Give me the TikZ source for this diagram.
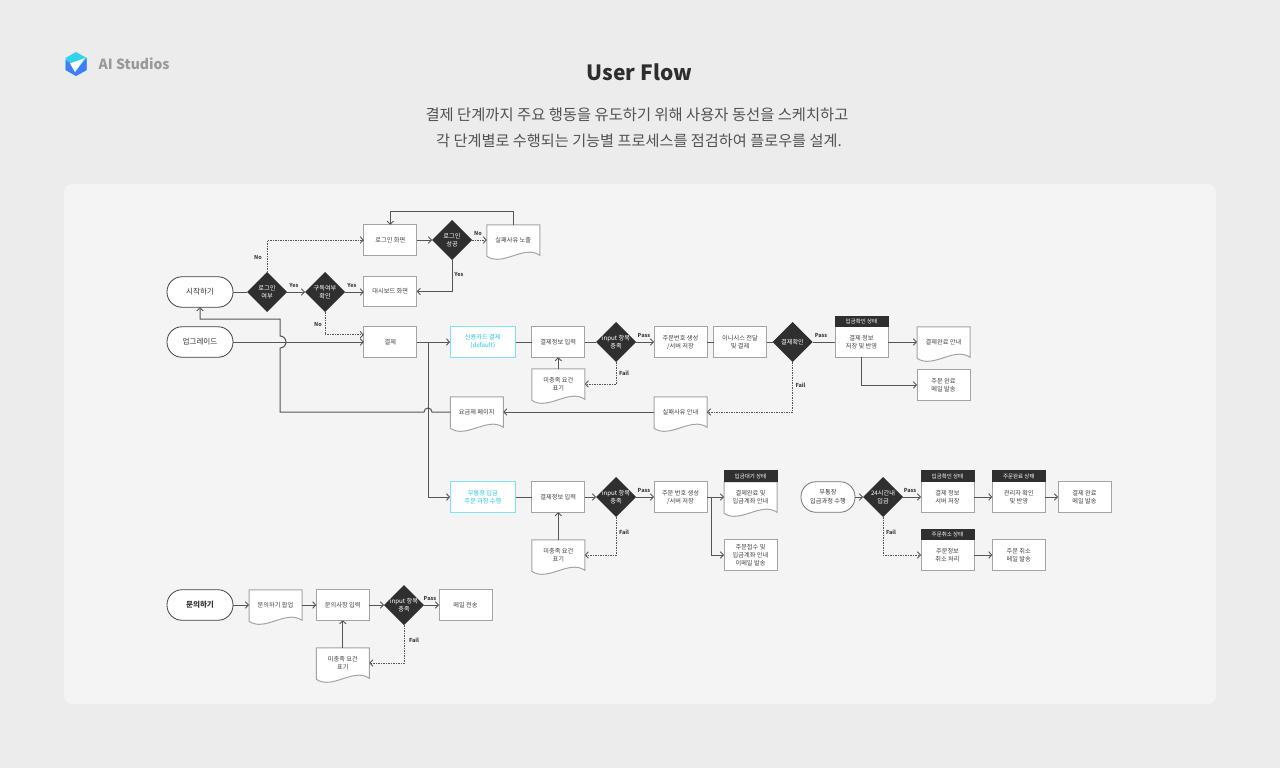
\documentclass[tikz,border=0pt]{standalone}
\usepackage{fontspec}
\setmainfont{Noto Sans CJK KR}
\usetikzlibrary{shapes.geometric,arrows.meta}
\definecolor{pagebg}{HTML}{ECECEC}
\definecolor{panelbg}{HTML}{F4F4F4}
\definecolor{dark}{HTML}{2F2F2F}
\definecolor{edgeg}{HTML}{A4A4A4}
\definecolor{linec}{HTML}{555555}
\definecolor{cyanb}{HTML}{7FE3F2}
\definecolor{cyant}{HTML}{22C8E6}
\definecolor{logob}{HTML}{3E7DF5}
\definecolor{logoc}{HTML}{2FD3EE}
\tikzset{
  smalltxt/.style={font=\fontsize{6.2}{8}\selectfont,text=black!75,align=center},
  box/.style={rectangle,draw=edgeg,fill=white,line width=1pt,minimum width=53pt,minimum height=30.5pt,inner sep=0pt,outer sep=0pt,smalltxt},
  cbox/.style={box,draw=cyanb,minimum width=65.5pt,text=cyant},
  docbox/.style={box,draw=none,fill=none,append after command={\pgfextra{
     \draw[draw=edgeg,line width=1pt,fill=white]
       (\tikzlastnode.north west) -- (\tikzlastnode.north east) -- (\tikzlastnode.south east)
       .. controls ([shift={(-16,-11)}]\tikzlastnode.south east) and ([shift={(-37,12)}]\tikzlastnode.south east) .. ([shift={(0,1)}]\tikzlastnode.south west) -- cycle;
     }}},
  pill/.style={rectangle,rounded corners=15pt,draw=black!75,fill=white,line width=0.8pt,minimum width=66pt,minimum height=30.5pt,inner sep=0pt,outer sep=0pt,font=\fontsize{7.6}{9}\selectfont,text=black!80,align=center},
  dia/.style={diamond,aspect=1,fill=dark,draw=none,minimum width=40pt,minimum height=40pt,inner sep=0pt,outer sep=0pt},
  diatxt/.style={font=\fontsize{6.2}{7.6}\selectfont,text=white,align=center,inner sep=0pt},
  hdr/.style={rectangle,fill=dark,draw=none,minimum width=54pt,minimum height=11.5pt,inner sep=0pt,outer sep=0pt,font=\fontsize{5.5}{6}\selectfont,text=white},
  conn/.style={draw=linec,line width=1pt},
  arr/.style={conn,-{Straight Barb[length=3pt,width=6.5pt,line width=0.9pt]}},
  dashconn/.style={arr,dash pattern=on 1.5pt off 1pt},
  lab/.style={font=\bfseries\fontsize{5.5}{6}\selectfont,text=black!75,inner sep=0pt}
}
\begin{document}
\begin{tikzpicture}[x=1pt,y=-1pt]
\useasboundingbox (0,0) rectangle (1280,768);
\fill[pagebg] (0,0) rectangle (1280,768);
\fill[panelbg,rounded corners=8pt] (64,184) rectangle (1216,704);
% logo
\fill[logoc] (76,52) -- (86.7,58) -- (86.7,70) -- (76,76) -- (65.5,70) -- (65.5,58) -- cycle;
\fill[logob] (65.5,60) -- (70,63) -- (75,72) -- (86.7,58) -- (86.7,70) -- (76,76) -- (65.5,70) -- cycle;
\fill[white] (85,58) -- (70,63.5) -- (75,72) -- cycle;
\node[font=\bfseries\fontsize{14}{16}\selectfont,text=black!40,anchor=west,inner sep=0pt] (brand) at (98.5,63.5) {AI Studios};
% title
\node[font=\bfseries\fontsize{21}{26}\selectfont,text=black!82,inner sep=0pt] (title) at (639.5,72) {User Flow};
\node[font=\fontsize{15.35}{20}\selectfont,text=black!68,inner sep=0pt] (subtitleA) at (637,114.5) {결제 단계까지 주요 행동을 유도하기 위해 사용자 동선을 스케치하고};
\node[font=\fontsize{15.2}{20}\selectfont,text=black!68,inner sep=0pt] (subtitleB) at (639,140.5) {각 단계별로 수행되는 기능별 프로세스를 점검하여 플로우를 설계.};
% row 0
\node[pill] (start) at (200,292) {시작하기};
\node[pill] (upg) at (200,342) {업그레이드};
\node[dia,label={[diatxt]center:로그인\\여부}] (dlogin) at (267,292) {};
\node[dia,label={[diatxt]center:구독여부\\확인}] (dsub) at (325,292) {};
\node[box] (loginscr) at (390.3,240) {로그인 화면};
\node[dia,label={[diatxt]center:로그인\\성공}] (dok) at (452,240) {};
\node[docbox] (failshow) at (513.3,240) {실패사유 노출};
\node[box] (dash) at (390.3,291.5) {대시보드 화면};
\node[box] (pay) at (390.3,342) {결제};
% row 1
\node[cbox] (card) at (482.8,342) {신용카드 결제\\(default)};
\node[box] (in1) at (558.3,342) {결제정보 입력};
\node[dia,label={[diatxt]center:input 항목\\충족}] (d1) at (616,342) {};
\node[box] (ord1) at (680.5,342) {주문번호 생성\\/서버 저장};
\node[box] (ini) at (740,342) {이니시스 전달\\및 결제};
\node[dia,label={[diatxt]center:결제확인}] (dpay) at (792.5,342) {};
\node[box] (save1) at (861.5,342) {결제 정보\\저장 및 반영};
\node[hdr] (h1) at (861.5,321.5) {입금확인 상태};
\node[docbox] (done1) at (943.5,342) {결제완료 안내};
\node[box] (mail1) at (943.5,385) {주문 완료\\메일 발송};
\node[docbox] (miss1) at (558.3,384) {미충족 요건\\표기};
\node[docbox] (fee) at (476.8,412) {요금제 페이지};
\node[docbox] (fail1) at (680.5,412) {실패사유 안내};
% row 2
\node[cbox] (bank) at (482.8,497) {무통장 입금\\주문 과정 수행};
\node[box] (in2) at (558.3,497) {결제정보 입력};
\node[dia,label={[diatxt]center:input 항목\\충족}] (d2) at (616,497) {};
\node[box] (ord2) at (680.5,497) {주문 번호 생성\\/서버 저장};
\node[docbox] (wait) at (750.5,497) {결제완료 및\\입금계좌 안내};
\node[hdr] (h2) at (750.5,476) {입금대기 상태};
\node[box] (acc) at (750.5,555) {주문접수 및\\입금계좌 안내\\이메일 발송};
\node[docbox] (miss2) at (558.3,555) {미충족 요건\\표기};
% right group
\node[pill,draw=black!55,minimum width=54pt] (bankp) at (828,497) {\fontsize{6.2}{8}\selectfont 무통장\\\fontsize{6.2}{8}\selectfont 입금과정 수행};
\node[dia,label={[diatxt]center:24시간내\\입금}] (d24) at (883,497) {};
\node[box] (save2) at (947.5,497) {결제 정보\\서버 저장};
\node[hdr] (h3) at (947.5,476) {입금확인 상태};
\node[box] (admin) at (1018.8,497) {관리자 확인\\및 반영};
\node[hdr] (h4) at (1018.8,476) {주문완료 상태};
\node[box] (mail2) at (1084.5,497) {결제 완료\\메일 발송};
\node[box] (cancel) at (947.5,555) {주문정보\\취소 처리};
\node[hdr] (h5) at (947.5,534.5) {주문취소 상태};
\node[box] (mail3) at (1018.8,555) {주문 취소\\메일 발송};
% row 3
\node[pill,font=\bfseries\fontsize{7.6}{9}\selectfont] (ask) at (200,605) {문의하기};
\node[docbox] (popup) at (275.5,605) {문의하기 팝업};
\node[box] (in3) at (342.8,605) {문의사항 입력};
\node[dia,label={[diatxt]center:input 항목\\충족}] (d3) at (404,605) {};
\node[box] (send) at (465.5,605) {메일 전송};
\node[docbox] (miss3) at (342.8,663) {미충족 요건\\표기};
% connectors row 0
\draw[conn] (start) -- (dlogin);
\draw[arr] (dlogin) -- (dsub);
\draw[arr] (dsub) -- (dash.west |- dsub);
\draw[dashconn] (dlogin.north) |- (loginscr.west);
\draw[arr] (loginscr) -- (dok);
\draw[dashconn] (dok) -- (failshow);
\draw[arr] (failshow.north) -- (failshow.north |- 0,211) -- (loginscr.north |- 0,211) -- (loginscr.north);
\draw[arr] (dok.south) |- (dash.east);
\draw[dashconn] (dsub.south) |- ([shift={(0,8)}]pay.north west);
\draw[arr] (upg) -- (pay);
\coordinate (hopA) at (432,412);
\coordinate (hopC) at (280,412);
\coordinate (hopB) at (280,348);
\draw[arr] (fee.west) -- (hopA) arc[start angle=0,end angle=-180,radius=4] -- (hopC) -- (hopB) arc[start angle=90,end angle=-90,radius=6] -- (280,319) -- (start.south |- 0,319) -- (start.south);
% row 1
\draw[arr] (pay) -- (card);
\coordinate (branch) at (428,342);
\draw[arr] (branch) |- (bank.west);
\draw[conn] (card) -- (in1);
\draw[conn] (in1) -- (d1);
\draw[arr] (d1) -- (ord1);
\draw[conn] (ord1) -- (ini);
\draw[conn] (ini) -- (dpay);
\draw[conn] (dpay) -- (save1);
\draw[arr] (save1) -- (done1);
\draw[arr] (save1.south) |- (mail1.west);
\draw[dashconn] (d1.south) |- (miss1.east);
\draw[arr] (miss1.north) -- (in1.south);
\draw[dashconn] (dpay.south) |- (fail1.east);
\draw[arr] (fail1) -- (fee);
% row 2
\draw[conn] (bank) -- (in2);
\draw[arr] (in2) -- (d2);
\draw[arr] (d2) -- (ord2);
\draw[arr] (ord2) -- (wait);
\coordinate (branch2) at (711.5,497);
\draw[arr] (branch2) |- (acc.west);
\draw[dashconn] (d2.south) |- (miss2.east);
\draw[arr] (miss2.north) -- (in2.south);
% right group
\draw[arr] (bankp) -- (d24);
\draw[arr] (d24) -- (save2);
\draw[arr] (save2) -- (admin);
\draw[arr] (admin) -- (mail2);
\draw[dashconn] (d24.south) |- (cancel.west);
\draw[arr] (cancel) -- (mail3);
% row 3
\draw[arr] (ask) -- (popup);
\draw[arr] (popup) -- (in3);
\draw[arr] (in3) -- (d3);
\draw[arr] (d3) -- (send);
\draw[dashconn] (d3.south) |- (miss3.east);
\draw[arr] (miss3.north) -- (in3.south);
% labels
\node[lab] (l1) at (258,257) {No};
\node[lab] (l2) at (294,285) {Yes};
\node[lab] (l3) at (352,285) {Yes};
\node[lab] (l4) at (318,324.5) {No};
\node[lab] (l5) at (478,233) {No};
\node[lab] (l6) at (459,274) {Yes};
\node[lab] (l7) at (644,335.5) {Pass};
\node[lab] (l8) at (624,373.5) {Fail};
\node[lab] (l9) at (821,335.5) {Pass};
\node[lab] (l10) at (800.5,385) {Fail};
\node[lab] (l11) at (644,490.5) {Pass};
\node[lab] (l12) at (624,532) {Fail};
\node[lab] (l13) at (910,490.5) {Pass};
\node[lab] (l14) at (891,532) {Fail};
\node[lab] (l15) at (430,598) {Pass};
\node[lab] (l16) at (414,640) {Fail};
\end{tikzpicture}
\end{document}
